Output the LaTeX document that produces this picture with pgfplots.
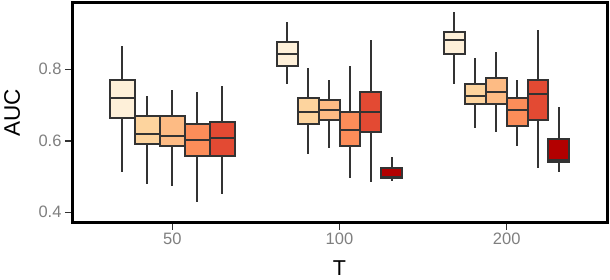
\documentclass[border=0pt]{standalone}
\usepackage{fontspec}
\setmainfont{Liberation Sans}
\usepackage{pgfplots}
\pgfplotsset{compat=1.18}
\usepgfplotslibrary{statistics}
\definecolor{c1}{HTML}{FEF0D9}
\definecolor{c2}{HTML}{FDD49E}
\definecolor{c3}{HTML}{FDBB84}
\definecolor{c4}{HTML}{FC8D59}
\definecolor{c5}{HTML}{E34A33}
\definecolor{c6}{HTML}{B30000}
\definecolor{edge}{HTML}{333333}
\definecolor{tickgray}{HTML}{7F7F7F}
\pgfplotsset{
  bx/.style={solid, draw=edge, line width=2pt, mark=none,
    boxplot/draw direction=y, boxplot/whisker extend=0,
    boxplot/every box/.style={fill=#1, draw=edge},
    boxplot/every median/.style={draw=edge, line width=2pt}},
}
\begin{document}
\begin{tikzpicture}
\begin{axis}[
  scale only axis, width=535pt, height=220.2pt,
  at={(72pt,57.3pt)}, anchor=south west,
  xmin=0.4, xmax=3.6, ymin=0.3709, ymax=0.9869,
  xtick={1,2,3}, xticklabels={50,100,200},
  ytick={0.4,0.6,0.8}, yticklabels={0.4,0.6,0.8},
  tick align=outside, major tick length=7pt, tick pos=left,
  tick style={draw=edge, line width=1.5pt},
  axis line style={line width=3pt, black},
  ticklabel style={font=\fontsize{16.5}{20}\selectfont, text=tickgray},
  xlabel={T}, ylabel={AUC},
  label style={font=\fontsize{22.5}{27}\selectfont},
  xlabel style={at={(axis description cs:0.5,-0.172)}, anchor=north, inner sep=0pt, font=\fontsize{21.5}{26}\selectfont},
  ylabel style={at={(axis description cs:-0.112,0.5)}, anchor=center, inner sep=0pt},
]
% T = 50
\addplot[bx=c1, boxplot prepared={draw position=0.70, box extend=0.15, lower whisker=0.513, lower quartile=0.665, median=0.721, upper quartile=0.770, upper whisker=0.866}] coordinates {};
\addplot[bx=c2, boxplot prepared={draw position=0.85, box extend=0.15, lower whisker=0.479, lower quartile=0.591, median=0.620, upper quartile=0.669, upper whisker=0.726}] coordinates {};
\addplot[bx=c3, boxplot prepared={draw position=1.00, box extend=0.15, lower whisker=0.474, lower quartile=0.586, median=0.613, upper quartile=0.669, upper whisker=0.743}] coordinates {};
\addplot[bx=c4, boxplot prepared={draw position=1.15, box extend=0.15, lower whisker=0.429, lower quartile=0.558, median=0.602, upper quartile=0.647, upper whisker=0.737}] coordinates {};
\addplot[bx=c5, boxplot prepared={draw position=1.30, box extend=0.15, lower whisker=0.451, lower quartile=0.558, median=0.609, upper quartile=0.653, upper whisker=0.754}] coordinates {};
% T = 100
\addplot[bx=c1, boxplot prepared={draw position=1.6875, box extend=0.125, lower whisker=0.759, lower quartile=0.810, median=0.844, upper quartile=0.877, upper whisker=0.933}] coordinates {};
\addplot[bx=c2, boxplot prepared={draw position=1.8125, box extend=0.125, lower whisker=0.564, lower quartile=0.647, median=0.681, upper quartile=0.721, upper whisker=0.805}] coordinates {};
\addplot[bx=c3, boxplot prepared={draw position=1.9375, box extend=0.125, lower whisker=0.581, lower quartile=0.659, median=0.687, upper quartile=0.715, upper whisker=0.771}] coordinates {};
\addplot[bx=c4, boxplot prepared={draw position=2.0625, box extend=0.125, lower whisker=0.497, lower quartile=0.586, median=0.631, upper quartile=0.680, upper whisker=0.810}] coordinates {};
\addplot[bx=c5, boxplot prepared={draw position=2.1875, box extend=0.125, lower whisker=0.485, lower quartile=0.626, median=0.681, upper quartile=0.737, upper whisker=0.883}] coordinates {};
\addplot[bx=c6, boxplot prepared={draw position=2.3125, box extend=0.125, lower whisker=0.488, lower quartile=0.496, median=0.499, upper quartile=0.525, upper whisker=0.554}] coordinates {};
% T = 200
\addplot[bx=c1, boxplot prepared={draw position=2.6875, box extend=0.125, lower whisker=0.759, lower quartile=0.843, median=0.883, upper quartile=0.905, upper whisker=0.961}] coordinates {};
\addplot[bx=c2, boxplot prepared={draw position=2.8125, box extend=0.125, lower whisker=0.636, lower quartile=0.704, median=0.726, upper quartile=0.760, upper whisker=0.832}] coordinates {};
\addplot[bx=c3, boxplot prepared={draw position=2.9375, box extend=0.125, lower whisker=0.625, lower quartile=0.704, median=0.737, upper quartile=0.777, upper whisker=0.849}] coordinates {};
\addplot[bx=c4, boxplot prepared={draw position=3.0625, box extend=0.125, lower whisker=0.586, lower quartile=0.641, median=0.687, upper quartile=0.719, upper whisker=0.771}] coordinates {};
\addplot[bx=c5, boxplot prepared={draw position=3.1875, box extend=0.125, lower whisker=0.525, lower quartile=0.659, median=0.731, upper quartile=0.770, upper whisker=0.911}] coordinates {};
\addplot[bx=c6, boxplot prepared={draw position=3.3125, box extend=0.125, lower whisker=0.512, lower quartile=0.5415, median=0.546, upper quartile=0.605, upper whisker=0.694}] coordinates {};
\end{axis}
\pgfresetboundingbox
\path[use as bounding box] (0,0) rectangle (610pt,280pt);
\end{tikzpicture}
\end{document}
